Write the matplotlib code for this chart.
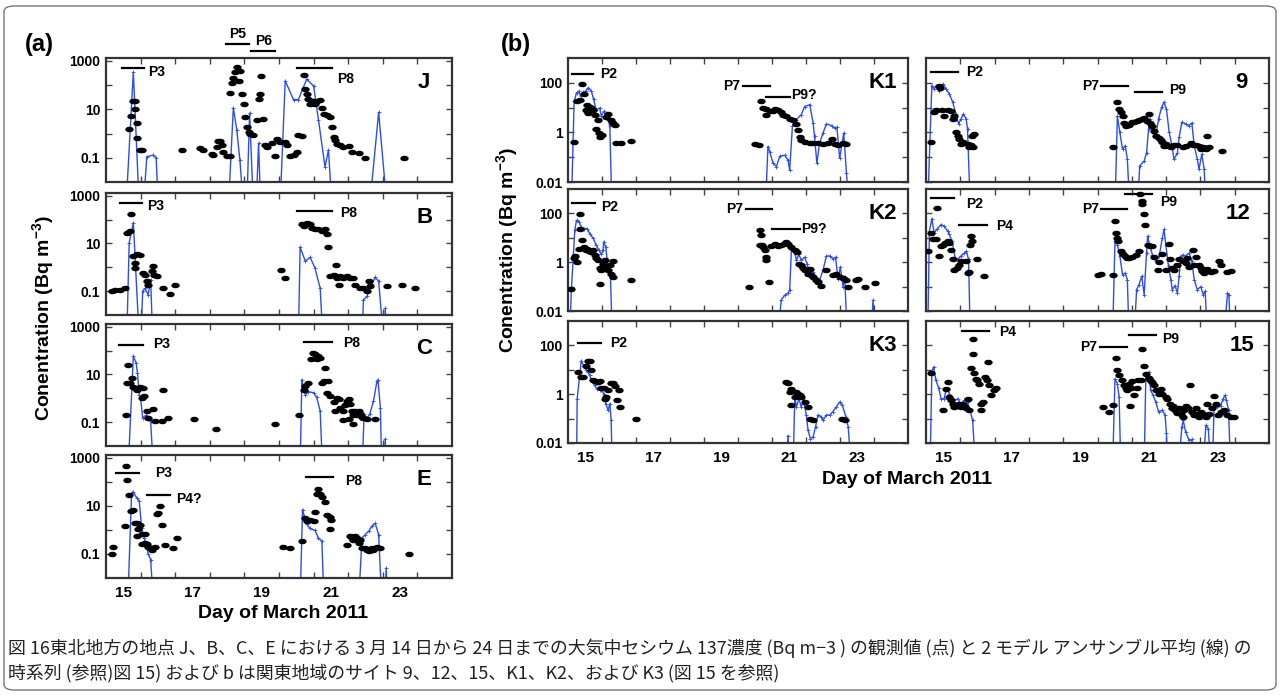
import matplotlib
matplotlib.use("Agg")
import matplotlib.pyplot as plt
from matplotlib.path import Path
from matplotlib.transforms import Affine2D
from matplotlib.patches import FancyBboxPatch

plt.rcParams['font.family'] = ['Liberation Sans', 'DejaVu Sans']
plt.rcParams['font.weight'] = 'bold'
plt.rcParams['mathtext.fontset'] = 'custom'
plt.rcParams['mathtext.rm'] = 'Liberation Sans:bold'
plt.rcParams['mathtext.default'] = 'rm'

# ---------------- data (day of March 2011, Bq m-3) ----------------
# 0.001 = model value below the plotted range

# (a) Tohoku sites
J_model_day = [15.08, 15.29, 15.46, 15.58, 15.68, 15.87, 15.95, 16.01, 18.04, 18.18, 18.28, 18.37, 18.47,
               18.57, 18.65, 18.76, 18.84, 18.91, 18.97, 19.53, 19.68, 19.92, 20.06, 20.3, 20.5, 20.64,
               20.83, 20.93, 21.03, 22.12, 22.38, 22.62]
J_model_val = [0.001, 350, 0.001, 0.001, 0.11, 0.13, 0.1, 0.001, 0.001, 11.5, 1.4, 0.08, 0.001,
               0.001, 7, 0.001, 0.001, 0.4, 0.001, 0.001, 148, 25, 25, 174, 91, 3.7,
               0.042, 0.21, 0.001, 0.001, 7.5, 0.001]
J_obs_day = [15.17, 15.21, 15.27, 15.34, 15.34, 15.39, 15.41, 15.48, 15.53, 16.69, 17.22, 17.31, 17.55,
             17.6, 17.7, 17.75, 17.8, 17.84, 17.89, 17.99, 18.09, 18.09, 18.13, 18.18, 18.23, 18.28,
             18.33, 18.38, 18.42, 18.49, 18.52, 18.57, 18.62, 18.66, 18.76, 18.86, 18.91, 18.95, 18.98,
             19.05, 19.1, 19.15, 19.29, 19.39, 19.44, 19.53, 19.68, 19.73, 19.82, 19.92, 20.01, 20.06,
             20.16, 20.21, 20.26, 20.3, 20.35, 20.4, 20.45, 20.5, 20.55, 20.59, 20.69, 20.74, 20.79,
             20.88, 20.98, 21.03, 21.08, 21.12, 21.17, 21.27, 21.36, 21.51, 21.61, 21.8, 21.99, 23.1]
J_obs_val = [1.5, 5.5, 23, 23, 10, 2.7, 0.65, 0.21, 0.21, 0.21, 0.25, 0.21, 0.15,
             0.13, 0.29, 0.51, 0.51, 0.34, 0.18, 0.12, 0.12, 48, 125, 200, 360, 580,
             148, 380, 41, 16, 5, 1.8, 1.2, 1, 0.9, 3.7, 27, 41, 240,
             4, 0.34, 0.29, 0.39, 0.12, 0.6, 0.46, 0.46, 0.34, 0.12, 0.13, 0.18, 0.87,
             0.8, 250, 70, 41, 27, 16, 23, 21, 16, 23, 25, 11.5, 6.6,
             6, 5, 1.9, 0.75, 0.55, 0.37, 0.34, 0.29, 0.3, 0.18, 0.16, 0.1, 0.1]

B_model_day = [15.1, 15.17, 15.29, 15.46, 15.51, 15.56, 15.63, 15.72, 15.79, 15.85, 20.06, 20.11, 20.26,
               20.4, 20.54, 20.69, 20.77, 21.9, 21.94, 22.04, 22.18, 22.28, 22.38, 22.52, 22.55, 22.57, 22.6]
B_model_val = [0.001, 10.7, 74, 0.001, 0.001, 0.1, 0.13, 0.07, 0.3, 0.001, 0.001, 7, 1.8,
               2.6, 0.93, 0.13, 0.001, 0.001, 0.043, 0.06, 0.19, 0.38, 0.26, 0.001, 0.001, 0.019, 0.001]
B_obs_day = [14.66, 14.76, 14.9, 15.05, 15.21, 15.12, 15.19, 15.27, 15.34, 15.34, 15.41, 15.48, 15.58,
             15.63, 15.68, 15.72, 15.82, 15.87, 15.89, 15.96, 16.16, 16.35, 16.49, 19.56, 19.68, 20.16,
             20.21, 20.3, 20.4, 20.45, 20.55, 20.64, 20.74, 20.83, 20.9, 20.93, 20.98, 21.08, 21.15,
             21.17, 21.22, 21.27, 21.36, 21.46, 21.56, 21.65, 21.7, 21.85, 21.94, 22.04, 22.09, 22.14,
             22.62, 23.05, 23.44]
B_obs_val = [0.1, 0.11, 0.11, 0.14, 170, 28, 33, 2.9, 0.93, 1.5, 3.6, 3.2, 0.58,
             0.46, 0.27, 0.18, 0.72, 1.1, 0.46, 0.42, 0.13, 0.075, 0.18, 0.8, 0.36, 63,
             54, 75, 63, 46, 39, 39, 33, 39, 24, 7, 0.42, 0.49, 1.3,
             0.36, 0.18, 0.45, 0.36, 0.42, 0.34, 0.36, 0.18, 0.14, 0.13, 0.1, 0.26, 0.16,
             0.17, 0.18, 0.13]

C_model_day = [15.14, 15.29, 15.37, 15.41, 15.46, 15.5, 15.56, 15.66, 15.72, 15.79, 15.87, 20.11, 20.16,
               20.26, 20.35, 20.5, 20.59, 20.69, 20.76, 21.9, 21.96, 22.04, 22.12, 22.23, 22.33, 22.36,
               22.43, 22.47, 22.54, 22.57, 22.6]
C_model_val = [0.001, 60, 30, 11.5, 1.4, 1, 0.15, 0.19, 0.13, 0.11, 0.001, 0.001, 6,
               1.4, 1.9, 1.7, 1.1, 0.29, 0.001, 0.001, 0.21, 0.15, 0.21, 0.75, 5.1, 6,
               0.4, 0.001, 0.001, 0.02, 0.001]
C_obs_day = [15.08, 15.14, 15.24, 15.12, 15.19, 15.29, 15.34, 15.39, 15.48, 15.58, 15.6, 15.53, 15.68,
             15.72, 15.87, 15.92, 16.13, 16.16, 16.3, 17.03, 17.68, 19.39, 20.09, 20.21, 20.26, 20.35,
             20.42, 20.48, 20.54, 20.59, 20.64, 20.69, 20.74, 20.79, 20.83, 20.88, 20.93, 20.98, 21.08,
             21.12, 21.17, 21.22, 21.27, 21.36, 21.36, 21.41, 21.46, 21.51, 21.51, 21.56, 21.61, 21.65,
             21.65, 21.7, 21.75, 21.8, 21.85, 21.9, 21.94, 22.04, 22.28]
C_obs_val = [0.2, 24, 7, 4.3, 4.3, 2.9, 2.7, 2.3, 2.9, 2.6, 1.2, 0.98, 0.29,
             0.15, 0.34, 0.11, 0.11, 2.2, 0.15, 0.14, 0.05, 0.08, 0.2, 2.3, 3.2, 4.3,
             43, 77, 70, 43, 60, 48, 4.3, 5.4, 19.5, 1.7, 5.4, 1.3, 0.7,
             0.3, 1, 0.9, 0.4, 0.29, 0.12, 0.5, 0.8, 0.9, 0.14, 0.55, 0.29, 0.2,
             0.08, 0.3, 0.19, 0.29, 0.21, 0.16, 0.15, 0.14, 0.14]

E_model_day = [15.13, 15.24, 15.29, 15.39, 15.46, 15.53, 15.6, 15.66, 15.72, 15.79, 15.87, 20.11, 20.18,
               20.23, 20.3, 20.4, 20.54, 20.64, 20.74, 20.8, 21.8, 21.9, 21.99, 22.09, 22.18, 22.28,
               22.38, 22.47, 22.55, 22.6, 22.63]
E_model_val = [0.001, 35, 38, 21, 16, 1.2, 0.46, 0.25, 0.1, 0.058, 0.001, 0.001, 7,
               3.7, 1.7, 1.15, 0.95, 0.46, 0.34, 0.001, 0.001, 0.46, 0.63, 0.88, 1.4, 1.9,
               0.63, 0.001, 0.001, 0.026, 0.001]
E_obs_day = [14.66, 14.71, 15.05, 15.08, 15.12, 15.17, 15.21, 15.27, 15.34, 15.39, 15.43, 15.48, 15.53,
             15.63, 15.39, 15.53, 15.63, 15.68, 15.72, 15.77, 15.82, 15.92, 15.96, 16.01, 16.06, 16.11,
             16.21, 16.45, 16.54, 19.61, 19.82, 20.16, 20.26, 20.3, 20.4, 20.5, 20.54, 20.59, 20.64,
             20.69, 20.74, 20.83, 20.9, 20.98, 21.0, 20.96, 21.46, 21.56, 21.61, 21.65, 21.7, 21.75,
             21.8, 21.85, 21.9, 21.99, 22.04, 22.09, 22.14, 22.18, 22.23, 22.33, 22.43, 23.25]
E_obs_val = [0.1, 0.19, 1.4, 450, 117, 28, 6, 7, 1.9, 1.9, 1.1, 1.6, 0.7,
             0.7, 0.55, 0.25, 0.29, 0.25, 0.19, 0.17, 0.15, 0.19, 4.7, 5, 9.7, 1.6,
             0.23, 0.18, 0.44, 0.19, 0.18, 0.35, 3.2, 2.3, 2.5, 2.3, 5.6, 30, 48,
             30, 23, 15, 4, 3.4, 2.7, 1.1, 0.23, 0.55, 0.46, 0.39, 0.55, 0.46,
             0.29, 0.39, 0.18, 0.17, 0.15, 0.13, 0.15, 0.17, 0.14, 0.19, 0.17, 0.1]

# (b) Kanto sites
K1_model_day = [14.6, 14.68, 14.75, 14.81, 14.87, 14.94, 15.02, 15.09, 15.19, 15.25, 15.33, 15.43, 15.48,
                15.55, 15.61, 15.68, 15.73, 15.79, 20.31, 20.38, 20.43, 20.53, 20.63, 20.73, 20.87, 20.97,
                21.02, 21.1, 21.22, 21.36, 21.46, 21.61, 21.71, 21.75, 21.82, 21.9, 22.0, 22.1, 22.25,
                22.34, 22.41, 22.49, 22.61, 22.69, 22.76]
K1_model_val = [0.001, 18, 39, 46, 29, 42, 46, 63, 46, 22, 8.3, 9.7, 4.5,
                7, 5.2, 3.3, 1.8, 0.001, 0.001, 0.27, 0.17, 0.058, 0.042, 0.11, 0.12, 0.077,
                0.03, 1.75, 3.3, 5.2, 11, 13.2, 2.4, 0.7, 0.058, 0.37, 0.94, 2.2, 1.9,
                1.5, 1.6, 0.09, 0.94, 0.023, 0.001]
K1_obs_day = [14.68, 14.76, 14.84, 14.92, 14.96, 15.02, 15.06, 15.09, 15.14, 15.19, 15.24, 15.28, 15.31,
              15.38, 15.41, 15.43, 15.51, 15.63, 15.68, 15.77, 15.82, 15.87, 15.92, 16.07, 16.36, 19.99,
              20.12, 20.19, 20.24, 20.31, 20.33, 20.43, 20.53, 20.58, 20.68, 20.77, 20.82, 20.92, 21.02,
              21.12, 21.22, 21.26, 21.31, 21.36, 21.46, 21.61, 21.71, 21.85, 22.0, 22.15, 22.25, 22.34,
              22.44, 22.59, 22.67]
K1_obs_val = [0.43, 19, 20, 86, 34, 8.3, 13, 6.1, 10.6, 9.7, 8.3, 5.2, 1.4,
              3.3, 0.94, 0.65, 0.8, 4.2, 5.7, 3.3, 2.4, 2.0, 0.37, 0.39, 0.47, 0.35,
              0.32, 18, 9.7, 5.2, 8.8, 7, 7, 8.8, 7.8, 6.5, 5.2, 4.5, 3.5,
              3.3, 2.2, 1.3, 0.65, 0.5, 0.43, 0.37, 0.39, 0.37, 0.35, 0.37, 0.53, 0.35,
              0.32, 0.39, 0.35]

K2_model_day = [14.55, 14.6, 14.65, 14.7, 14.75, 14.82, 14.89, 14.96, 15.06, 15.14, 15.24, 15.33, 15.41,
                15.48, 15.53, 15.55, 15.61, 15.68, 15.75, 15.8, 20.68, 20.77, 20.87, 20.97, 21.02, 21.07,
                21.17, 21.22, 21.29, 21.36, 21.46, 21.53, 21.61, 21.71, 21.78, 21.85, 21.9, 22.0, 22.1,
                22.2, 22.29, 22.37, 22.44, 22.51, 22.59, 22.64, 22.71, 23.42, 23.47, 23.55]
K2_model_val = [0.001, 0.083, 1.2, 20.6, 53, 45, 28, 24, 24, 15, 9.4, 5, 3.1,
                2.1, 3.1, 6.8, 4.3, 0.55, 0.25, 0.001, 0.001, 0.028, 0.044, 0.054, 0.07, 3.1,
                2.4, 1.2, 2.1, 1.2, 1.6, 0.88, 0.34, 0.4, 0.25, 0.13, 0.18, 0.47, 1.8,
                1.8, 1.4, 1.6, 0.21, 0.64, 0.096, 0.25, 0.001, 0.001, 0.028, 0.001]
K2_obs_day = [14.6, 14.67, 14.7, 14.75, 14.82, 14.84, 14.86, 14.92, 14.96, 15.02, 15.06, 15.12, 15.19,
              15.24, 15.28, 15.33, 15.38, 15.43, 15.43, 15.48, 15.53, 15.58, 15.63, 15.68, 15.73, 15.77,
              15.82, 15.82, 16.36, 19.82, 20.14, 20.19, 20.22, 20.14, 20.24, 20.28, 20.31, 20.33, 20.41,
              20.48, 20.58, 20.68, 20.77, 20.84, 20.9, 20.97, 21.07, 21.17, 21.24, 21.29, 21.36, 21.41,
              21.46, 21.56, 21.61, 21.66, 21.71, 21.8, 21.85, 21.95, 22.1, 22.29, 22.39, 22.49, 22.59,
              22.69, 22.74, 22.96, 23.03, 23.23, 23.52]
K2_obs_val = [0.083, 1.55, 1.8, 1.0, 3.6, 24, 94, 8.5, 4.3, 3.1, 3.6, 2.9, 2.6,
              3.1, 1.9, 1.55, 1.2, 0.6, 0.13, 0.47, 0.88, 1.2, 0.6, 0.47, 0.76, 0.34,
              1.1, 0.25, 0.18, 0.096, 20.6, 12.9, 5, 5, 4.3, 3.1, 1.2, 1.65, 0.16,
              4.5, 5.5, 4.5, 5, 5.8, 6.8, 5.5, 4.3, 3.1, 2.6, 0.88, 0.76, 0.6,
              0.47, 0.34, 0.55, 0.29, 0.25, 0.18, 0.16, 0.11, 0.47, 0.29, 0.34, 0.25, 0.23,
              0.18, 0.096, 0.18, 0.21, 0.096, 0.14]

K3_model_day = [14.75, 14.77, 14.89, 14.96, 15.04, 15.14, 15.19, 15.28, 15.35, 15.43, 15.48, 15.55, 15.61,
                15.68, 15.73, 15.77, 15.8, 20.92, 20.97, 21.02, 21.12, 21.17, 21.22, 21.29, 21.36, 21.43,
                21.51, 21.56, 21.63, 21.71, 21.78, 21.85, 21.95, 22.0, 22.1, 22.2, 22.29, 22.39, 22.49,
                22.57, 22.67, 22.74, 22.83]
K3_model_val = [0.001, 0.66, 24, 15, 9.5, 5.9, 3.7, 2.3, 1.7, 1.45, 1.5, 1.05, 0.41,
                0.22, 0.41, 0.085, 0.001, 0.001, 0.02, 0.001, 0.001, 0.77, 0.3, 0.66, 0.3, 0.56,
                0.14, 0.033, 0.015, 0.018, 0.046, 0.14, 0.12, 0.085, 0.14, 0.14, 0.19, 0.3, 0.48,
                0.35, 0.12, 0.046, 0.001]
K3_obs_day = [14.79, 14.89, 14.94, 15.04, 15.09, 15.14, 15.19, 15.24, 15.28, 15.38, 15.43, 15.48, 15.55,
              15.58, 15.63, 15.68, 15.77, 15.82, 15.87, 15.94, 16.0, 16.04, 16.51, 20.9, 20.97, 21.02,
              21.07, 21.07, 21.17, 21.22, 21.26, 21.31, 21.36, 21.46, 21.56, 21.61, 21.71, 22.57, 22.64]
K3_obs_val = [8.1, 5.1, 5.1, 15, 24, 24, 9.5, 3.7, 3.5, 3.2, 3.5, 1.8, 1.8,
              0.66, 0.77, 1.45, 2.9, 2.9, 2.1, 0.6, 1.45, 0.3, 0.1, 3.2, 2.9, 1.2,
              1.7, 0.35, 0.77, 1.2, 1.05, 0.9, 0.77, 0.48, 0.3, 0.1, 0.09, 0.1, 0.09]

S9_model_day = [14.55, 14.67, 14.74, 14.81, 14.87, 14.94, 15.0, 15.08, 15.18, 15.28, 15.37, 15.45, 15.52,
                15.59, 15.67, 15.71, 15.79, 20.01, 20.08, 20.15, 20.23, 20.31, 20.37, 20.44, 20.67, 20.73,
                20.86, 20.93, 20.99, 21.02, 21.1, 21.2, 21.28, 21.37, 21.44, 21.51, 21.59, 21.67, 21.73,
                21.83, 21.88, 21.96, 22.07, 22.17, 22.25, 22.32, 22.41, 22.46, 22.54, 22.61, 22.66]
S9_model_val = [0.001, 78, 57, 78, 49, 67, 91, 57, 36, 16.5, 5.5, 2.2, 3.5,
                5.5, 3.5, 1.4, 0.001, 0.001, 4.7, 1.0, 0.21, 0.29, 0.083, 0.001, 0.001, 0.045,
                0.07, 0.15, 1.4, 3.5, 1.0, 0.74, 3.5, 10.3, 16.5, 8.8, 1.0, 0.29, 0.083,
                0.15, 0.63, 2.6, 2.2, 1.9, 2.4, 0.29, 0.083, 0.033, 0.13, 0.033, 0.001]
S9_obs_day = [14.65, 14.72, 14.79, 14.87, 14.91, 14.97, 15.03, 15.13, 15.23, 15.28, 15.33, 15.37, 15.42,
              15.47, 15.52, 15.57, 15.71, 15.76, 15.84, 15.91, 15.81, 15.88, 19.94, 20.08, 20.13, 20.18,
              20.23, 20.28, 20.33, 20.42, 20.5, 20.57, 20.64, 20.71, 20.79, 20.86, 20.93, 20.99, 21.02,
              21.1, 21.15, 21.22, 21.28, 21.34, 21.39, 21.44, 21.49, 21.59, 21.64, 21.73, 21.83, 21.98,
              22.07, 22.22, 22.29, 22.36, 22.46, 22.51, 22.58, 22.66, 22.7, 22.75, 23.14]
S9_obs_val = [0.42, 6.9, 8.3, 78, 61, 8.3, 4.8, 8.3, 7.6, 3.5, 4.5, 1.0, 0.74,
              0.53, 0.34, 0.42, 0.34, 0.27, 0.74, 0.86, 0.3, 0.25, 0.27, 17.5, 8.8, 6.9,
              4.7, 2.4, 1.9, 2.0, 2.6, 2.7, 3.0, 3.3, 3.5, 3.7, 3.0, 5.5, 2.4,
              1.75, 1.1, 0.74, 0.57, 0.5, 0.42, 0.29, 0.34, 0.29, 0.25, 0.31, 0.31, 0.27,
              0.29, 0.37, 0.31, 0.31, 0.29, 0.21, 0.27, 0.21, 0.7, 0.25, 0.18]

S12_model_day = [14.55, 14.6, 14.67, 14.74, 14.81, 14.94, 15.03, 15.13, 15.18, 15.26, 15.35, 15.42, 15.52,
                 15.62, 15.68, 15.74, 15.79, 19.94, 20.01, 20.08, 20.15, 20.23, 20.31, 20.37, 20.42, 20.57,
                 20.64, 20.71, 20.79, 20.86, 20.93, 20.96, 21.03, 21.1, 21.2, 21.3, 21.39, 21.44, 21.49,
                 21.57, 21.64, 21.68, 21.76, 21.83, 21.88, 21.93, 22.0, 22.07, 22.17, 22.25, 22.32, 22.41,
                 22.51, 22.58, 22.64, 22.7, 23.19, 23.29, 23.33, 23.38]
S12_model_val = [0.001, 19, 60, 16, 22, 35, 30, 19, 13.7, 7.3, 1.5, 1.3, 1.8,
                 2.4, 2.8, 1.3, 0.001, 0.001, 7.3, 5.3, 1.8, 0.31, 0.36, 0.19, 0.001, 0.001,
                 0.075, 0.12, 0.27, 0.047, 2.4, 11.7, 4.5, 2.0, 1.1, 1.8, 10, 22, 5.3,
                 0.68, 0.19, 0.075, 0.11, 0.054, 0.27, 1.8, 2.0, 1.8, 2.4, 1.1, 0.19, 0.075,
                 0.1, 0.047, 0.065, 0.001, 0.001, 0.054, 0.047, 0.001]
S12_obs_day = [14.55, 14.65, 14.69, 14.81, 14.79, 14.87, 14.94, 14.99, 15.06, 15.13, 15.18, 15.23, 15.28,
               15.33, 15.4, 15.47, 15.52, 15.67, 15.71, 15.76, 15.78, 15.81, 15.84, 15.98, 16.2, 19.5,
               19.6, 19.94, 20.01, 20.05, 20.08, 20.11, 20.18, 20.23, 20.31, 20.37, 20.42, 20.52, 20.62,
               20.71, 20.73, 20.79, 20.81, 20.86, 20.89, 20.96, 21.03, 21.08, 21.15, 21.25, 21.3, 21.39,
               21.49, 21.57, 21.61, 21.68, 21.73, 21.83, 21.88, 21.98, 22.07, 22.12, 22.17, 22.27, 22.32,
               22.38, 22.46, 22.51, 22.56, 22.61, 22.7, 22.8, 22.9, 23.04, 23.09, 23.29, 23.38]
S12_obs_val = [2.8, 16, 9.1, 170, 9.1, 1.8, 4.5, 5.3, 6.2, 7.3, 6.2, 3.3, 1.3,
               0.5, 0.58, 0.8, 1.1, 1.1, 0.36, 0.39, 5.3, 11.7, 7.3, 1.3, 0.27, 0.31,
               0.34, 0.31, 48, 16, 10, 7.3, 2.8, 2.1, 1.8, 1.5, 1.5, 1.65, 1.9,
               2.8, 600, 320, 235, 91, 35, 5.3, 4.8, 4.5, 1.65, 0.5, 1.0, 2.1,
               0.5, 5.8, 1.3, 0.58, 0.5, 0.8, 1.3, 1.1, 0.94, 1.5, 0.64, 3.3, 0.8,
               1.65, 0.8, 0.58, 0.43, 0.36, 0.53, 0.39, 0.43, 1.1, 0.8, 0.39, 0.43]

S15_model_day = [14.62, 14.67, 14.72, 14.79, 14.87, 14.94, 15.03, 15.08, 15.13, 15.18, 15.23, 15.33, 15.42,
                 15.52, 15.62, 15.71, 15.78, 15.86, 15.94, 19.94, 20.01, 20.08, 20.13, 20.18, 20.86, 20.91,
                 20.99, 21.05, 21.12, 21.2, 21.28, 21.39, 21.47, 21.51, 21.54, 21.86, 21.96, 22.0, 22.07,
                 22.17, 22.25, 22.29, 22.58, 22.66, 22.73, 22.8, 22.85, 22.9, 22.99, 23.09, 23.16, 23.22,
                 23.26, 23.32, 23.38]
S15_model_val = [0.001, 8.1, 13, 3.7, 1.8, 0.65, 0.65, 1.45, 1.7, 1.05, 0.77, 0.56, 0.65,
                 0.41, 0.56, 0.48, 0.22, 0.085, 0.001, 0.001, 4.3, 2.7, 0.77, 0.001, 0.001, 6.9,
                 8.1, 1.45, 0.9, 0.48, 0.19, 0.22, 0.14, 0.025, 0.001, 0.001, 0.046, 0.085, 0.028,
                 0.013, 0.014, 0.001, 0.001, 0.053, 0.039, 0.001, 0.001, 0.35, 0.3, 0.32, 0.65, 0.9,
                 0.56, 0.22, 0.001]
S15_obs_day = [14.65, 14.99, 15.08, 15.13, 15.18, 15.23, 15.28, 15.33, 15.37, 15.47, 15.52, 15.57, 15.62,
               15.67, 15.71, 15.76, 15.81, 15.86, 15.88, 15.91, 15.96, 16.0, 16.05, 16.1, 16.1, 16.15,
               16.23, 16.3, 16.27, 16.34, 16.39, 16.49, 16.54, 19.67, 19.84, 19.94, 20.05, 20.08, 20.13,
               20.21, 20.28, 20.33, 20.37, 20.42, 20.44, 20.47, 20.52, 20.57, 20.64, 20.69, 20.76, 20.81,
               20.86, 20.91, 20.99, 21.02, 21.08, 21.15, 21.22, 21.28, 21.34, 21.39, 21.49, 21.54, 21.61,
               21.67, 21.7, 21.76, 21.83, 21.88, 21.93, 21.98, 22.02, 22.09, 22.15, 22.19, 22.25, 22.32,
               22.36, 22.41, 22.46, 22.51, 22.58, 22.66, 22.7, 22.75, 22.83, 22.9, 22.95, 23.02, 23.09,
               23.19, 23.29, 23.38, 23.48]
S15_obs_val = [7.4, 0.23, 1.7, 3.1, 0.77, 0.56, 0.38, 0.3, 0.32, 0.41, 0.3, 0.38, 0.32,
               0.26, 0.65, 0.22, 12, 46, 190, 7.4, 4.3, 3.7, 2.7, 0.41, 0.23, 0.48,
               5, 21, 3.7, 2.3, 0.9, 1.45, 1.8, 0.3, 0.19, 0.35, 31, 10, 5.9,
               3.9, 2.3, 1.8, 1.45, 2.7, 0.32, 1.8, 3.5, 0.9, 1.8, 3.9, 3.7, 73,
               15, 6.9, 4.7, 3.7, 3.2, 2.3, 1.45, 0.98, 1.7, 1.05, 0.77, 0.65, 0.41,
               0.26, 0.32, 0.22, 0.17, 0.26, 0.16, 0.12, 0.22, 0.32, 0.26, 2.3, 0.19, 0.14,
               0.26, 0.16, 0.12, 0.19, 0.16, 0.12, 0.38, 0.16, 0.28, 0.82, 0.38, 0.14, 0.19,
               0.22, 0.14, 0.12, 0.12]

# plume periods: (name, start day, end day, bar level, label day, label level, label side)
J_periods = [("P3", 14.95, 15.61, 490, 15.72, 350, "left"), ("P8", 20.01, 21.03, 490, 21.17, 180, "left"),
             ("P5", 17.97, 18.62, 4960, 18.3, 13000, "center"), ("P6", 18.68, 19.39, 2450, 19.05, 6800, "center")]
B_periods = [("P3", 14.9, 15.53, 480, 15.68, 380, "left"), ("P8", 20.03, 21.03, 230, 21.27, 180, "left")]
C_periods = [("P3", 14.88, 15.56, 170, 15.87, 180, "left"), ("P8", 20.23, 21.03, 220, 21.36, 200, "left")]
E_periods = [("P3", 14.79, 15.46, 240, 15.92, 230, "left"), ("P4?", 15.69, 16.36, 28, 16.54, 20, "left"),
             ("P8", 20.28, 21.06, 155, 21.41, 110, "left")]
K1_periods = [("P2", 14.63, 15.24, 218, 15.45, 218, "left"), ("P7", 19.65, 20.43, 73, 19.55, 73, "right"),
              ("P9?", 20.31, 21.02, 27, 21.07, 32, "left")]
K2_periods = [("P2", 14.63, 15.28, 275, 15.48, 190, "left"), ("P7", 19.73, 20.51, 146, 19.65, 146, "right"),
              ("P9?", 20.51, 21.31, 22, 21.36, 22, "left")]
K3_periods = [("P2", 14.79, 15.48, 125, 15.73, 125, "left")]
S9_periods = [("P2", 14.65, 15.42, 270, 15.67, 270, "left"), ("P7", 19.6, 20.4, 78, 19.55, 78, "right"),
              ("P9", 20.6, 21.39, 44, 21.59, 50, "left")]
S12_periods = [("P2", 14.65, 15.33, 440, 15.67, 235, "left"), ("P4", 15.47, 16.27, 35, 16.54, 30, "left"),
               ("P7", 19.6, 20.37, 155, 19.55, 155, "right"), ("P9", 20.31, 21.1, 600, 21.34, 290, "left")]
S15_periods = [("P4", 15.55, 16.34, 375, 16.64, 350, "left"), ("P7", 19.57, 20.37, 90, 19.5, 90, "right"),
               ("P9", 20.42, 21.2, 255, 21.39, 190, "left")]

day_ticks = [15, 17, 19, 21, 23]
day_bounds = [15.5, 16.5, 17.5, 18.5, 19.5, 20.5, 21.5, 22.5, 23.5]

# ---------------- drawing ----------------
BLUE = "#2d4ee6"
ELLIPSE = Affine2D().scale(1.7, 1.0).transform_path(Path.unit_circle())

fig = plt.figure(figsize=(12.8, 6.95), dpi=100)


def panel(rect, site, mday, mval, oday, oval, periods, ylim, yticks, ylabels, xlabels, site_x):
    ax = fig.add_axes(rect)
    ax.plot(mday, mval, color=BLUE, lw=1.0, marker="+", ms=3, mew=0.6, zorder=2)
    ax.plot(oday, oval, ls="none", marker=ELLIPSE, ms=5.0, color="black", zorder=3)
    for name, x0, x1, yb, tx, ty, side in periods:
        ax.plot([x0, x1], [yb, yb], color="black", lw=1.6, clip_on=False, zorder=4)
        ax.text(tx, ty, name, ha=side, va="center", fontsize=10, fontweight="bold", clip_on=False)
    ax.text(site_x, 0.8, site, transform=ax.transAxes, ha="center", va="center",
            fontsize=16, fontweight="bold")
    ax.set_yscale("log")
    ax.set_ylim(*ylim)
    ax.set_xlim(14.5, 24.5)
    ax.set_yticks(yticks)
    ax.set_yticklabels(ylabels)
    ax.minorticks_off()
    ax.set_xticks(day_ticks)
    ax.set_xticks(day_bounds, minor=True)
    ax.set_xticklabels([str(d) for d in day_ticks] if xlabels else [])
    ax.tick_params(axis="x", which="major", length=0, pad=6, labelsize=11)
    ax.tick_params(axis="x", which="minor", direction="in", length=4, width=1, top=True, bottom=True,
                   color="#444")
    ax.tick_params(axis="y", which="major", direction="in", length=4, width=1, left=True, right=True,
                   labelsize=10, pad=4, color="#444")
    for sp in ax.spines.values():
        sp.set_linewidth(1.6)
        sp.set_color("#333")
    return ax


a_ticks = [0.1, 1, 10, 100, 1000]
a_labels = ["0.1", "", "10", "", "1000"]
b_ticks = [0.01, 0.1, 1, 10, 100]
b_labels = ["0.01", "", "1", "", "100"]
a_lim = (0.01, 1300)
b_lim = (0.01, 1000)

ax_l, ax_w = 106 / 1280, 346 / 1280
panel([ax_l, 0.7381, ax_w, 0.1784], "J", J_model_day, J_model_val, J_obs_day, J_obs_val, J_periods,
      a_lim, a_ticks, a_labels, False, 0.92)
panel([ax_l, 0.5468, ax_w, 0.1755], "B", B_model_day, B_model_val, B_obs_day, B_obs_val, B_periods,
      a_lim, a_ticks, a_labels, False, 0.92)
panel([ax_l, 0.3583, ax_w, 0.1755], "C", C_model_day, C_model_val, C_obs_day, C_obs_val, C_periods,
      a_lim, a_ticks, a_labels, False, 0.92)
panel([ax_l, 0.1683, ax_w, 0.1770], "E", E_model_day, E_model_val, E_obs_day, E_obs_val, E_periods,
      a_lim, a_ticks, a_labels, True, 0.92)

c1, c1w = 568 / 1280, 340 / 1280
c2, c2w = 926 / 1280, 343 / 1280
panel([c1, 0.7381, c1w, 0.1784], "K1", K1_model_day, K1_model_val, K1_obs_day, K1_obs_val, K1_periods,
      b_lim, b_ticks, b_labels, False, 0.925)
panel([c1, 0.5525, c1w, 0.1755], "K2", K2_model_day, K2_model_val, K2_obs_day, K2_obs_val, K2_periods,
      b_lim, b_ticks, b_labels, False, 0.925)
panel([c1, 0.3626, c1w, 0.1755], "K3", K3_model_day, K3_model_val, K3_obs_day, K3_obs_val, K3_periods,
      b_lim, b_ticks, b_labels, True, 0.925)
panel([c2, 0.7381, c2w, 0.1784], "9", S9_model_day, S9_model_val, S9_obs_day, S9_obs_val, S9_periods,
      b_lim, b_ticks, [], False, 0.92)
panel([c2, 0.5525, c2w, 0.1755], "12", S12_model_day, S12_model_val, S12_obs_day, S12_obs_val, S12_periods,
      b_lim, b_ticks, [], False, 0.91)
panel([c2, 0.3626, c2w, 0.1755], "15", S15_model_day, S15_model_val, S15_obs_day, S15_obs_val, S15_periods,
      b_lim, b_ticks, [], True, 0.92)

H = 695.0
ylab = r"Conentration (Bq m$^{-3}$)"
fig.text(39 / 1280, 1 - 45 / H, "(a)", fontsize=17, fontweight="bold", ha="center", va="center")
fig.text(516 / 1280, 1 - 45 / H, "(b)", fontsize=17, fontweight="bold", ha="center", va="center")
fig.text(43 / 1280, 1 - 318 / H, ylab, rotation=90, fontsize=14, fontweight="bold", ha="center", va="center")
fig.text(507 / 1280, 1 - 250 / H, ylab, rotation=90, fontsize=14, fontweight="bold", ha="center", va="center")
fig.text(283 / 1280, 1 - 614 / H, "Day of March 2011", fontsize=14, fontweight="bold", ha="center", va="center")
fig.text(907 / 1280, 1 - 480 / H, "Day of March 2011", fontsize=14, fontweight="bold", ha="center", va="center")

caption1 = ("図 16東北地方の地点 J、B、C、E における 3 月 14 日から 24 日までの大気中セシウム 137濃度 "
            "(Bq m−3 ) の観測値 (点) と 2 モデル アンサンブル平均 (線) の")
caption2 = "時系列 (参照)図 15) および b は関東地域のサイト 9、12、15、K1、K2、および K3 (図 15 を参照)"
cjk = ["Noto Sans CJK JP", "DejaVu Sans"]
fig.text(8 / 1280, 1 - 648 / H, caption1, family=cjk, fontsize=12.9, fontweight="normal", va="center",
         color="#222")
fig.text(8 / 1280, 1 - 673 / H, caption2, family=cjk, fontsize=12.9, fontweight="normal", va="center",
         color="#222")

# rounded frame around the figure
fig.patches.append(FancyBboxPatch((4 / 1280, 5 / H), 1272 / 1280, 684 / H,
                                  boxstyle="round,pad=0,rounding_size=0.008", transform=fig.transFigure,
                                  fill=False, ec="#777", lw=1.0))

fig.savefig("out.png", dpi=100)
